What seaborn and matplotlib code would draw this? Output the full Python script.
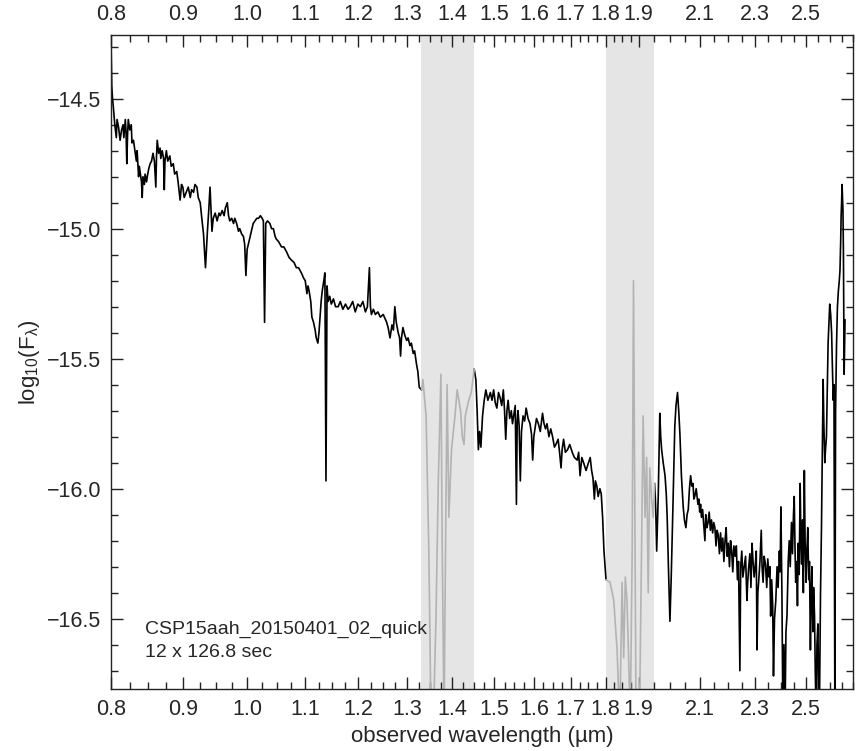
import numpy as np
import pandas as pd
import seaborn as sns
import matplotlib
matplotlib.use("Agg")
import matplotlib.pyplot as plt
from matplotlib.ticker import FixedLocator, FixedFormatter, FuncFormatter, NullFormatter


# spectrum values (wavelength in micron, log10 flux)
seg1_wl = [0.800, 0.801, 0.802, 0.803, 0.805, 0.807, 0.808, 0.810, 0.812, 0.814,
           0.816, 0.817, 0.819, 0.820, 0.821, 0.822, 0.823, 0.825, 0.827, 0.828,
           0.830, 0.832, 0.834, 0.835, 0.837, 0.838, 0.839, 0.841, 0.842, 0.843,
           0.845, 0.846, 0.848, 0.849, 0.851, 0.853, 0.855, 0.857, 0.859, 0.861,
           0.862, 0.863, 0.865, 0.867, 0.868, 0.870, 0.872, 0.873, 0.874, 0.876,
           0.878, 0.881, 0.883, 0.886, 0.888, 0.891, 0.893, 0.896, 0.898, 0.900,
           0.902, 0.905, 0.908, 0.911, 0.913, 0.916, 0.918, 0.921, 0.923, 0.926,
           0.928, 0.931, 0.934, 0.937, 0.939, 0.941, 0.943, 0.944, 0.946, 0.949,
           0.952, 0.955, 0.957, 0.960, 0.963, 0.965, 0.968, 0.970, 0.972, 0.975,
           0.978, 0.980, 0.983, 0.986, 0.988, 0.991, 0.994, 0.996, 0.998, 1.000,
           1.002, 1.005, 1.008, 1.010, 1.013, 1.016, 1.019, 1.022, 1.025, 1.027,
           1.029, 1.031, 1.034, 1.038, 1.041, 1.044, 1.047, 1.049, 1.053, 1.058,
           1.062, 1.067, 1.071, 1.075, 1.080, 1.084, 1.088, 1.093, 1.097, 1.100,
           1.103, 1.105, 1.107, 1.110, 1.112, 1.115, 1.118, 1.120, 1.123, 1.125,
           1.127, 1.129, 1.131, 1.134, 1.136, 1.138, 1.140, 1.142, 1.145, 1.148,
           1.152, 1.156, 1.161, 1.165, 1.170, 1.175, 1.180, 1.184, 1.189, 1.194,
           1.199, 1.204, 1.209, 1.214, 1.218, 1.222, 1.224, 1.226, 1.230, 1.234,
           1.239, 1.244, 1.250, 1.257, 1.260, 1.264, 1.268, 1.271, 1.274, 1.277,
           1.281, 1.284, 1.286, 1.288, 1.291, 1.295, 1.299, 1.302, 1.306, 1.309,
           1.313, 1.316, 1.320, 1.323, 1.326, 1.331]
seg1_flux = [-14.27, -14.45, -14.50, -14.53, -14.60, -14.65, -14.58, -14.61, -14.66, -14.62,
             -14.60, -14.65, -14.58, -14.63, -14.75, -14.64, -14.58, -14.62, -14.60, -14.67,
             -14.66, -14.70, -14.74, -14.70, -14.80, -14.76, -14.78, -14.82, -14.88, -14.80,
             -14.83, -14.79, -14.82, -14.80, -14.77, -14.75, -14.74, -14.71, -14.74, -14.84,
             -14.72, -14.66, -14.71, -14.69, -14.73, -14.70, -14.73, -14.85, -14.74, -14.70,
             -14.74, -14.72, -14.76, -14.75, -14.79, -14.78, -14.82, -14.89, -14.83, -14.84,
             -14.88, -14.86, -14.84, -14.88, -14.85, -14.86, -14.83, -14.84, -14.88, -14.90,
             -14.95, -15.02, -15.15, -15.01, -14.93, -14.84, -14.95, -15.01, -14.96, -14.94,
             -14.97, -14.94, -14.95, -14.93, -14.95, -14.92, -14.90, -14.95, -14.97, -14.96,
             -14.98, -14.96, -14.98, -15.01, -15.00, -15.02, -15.03, -15.06, -15.18, -15.08,
             -15.06, -15.03, -15.00, -14.98, -14.97, -14.96, -14.96, -14.95, -14.96, -14.97,
             -15.36, -14.98, -14.97, -14.98, -15.00, -15.00, -15.03, -15.04, -15.05, -15.07,
             -15.07, -15.09, -15.11, -15.12, -15.13, -15.15, -15.15, -15.17, -15.19, -15.20,
             -15.25, -15.22, -15.24, -15.28, -15.34, -15.36, -15.39, -15.42, -15.44, -15.40,
             -15.34, -15.28, -15.24, -15.20, -15.17, -15.97, -15.22, -15.28, -15.26, -15.29,
             -15.27, -15.30, -15.30, -15.28, -15.31, -15.29, -15.31, -15.30, -15.28, -15.32,
             -15.29, -15.30, -15.28, -15.32, -15.30, -15.15, -15.30, -15.33, -15.31, -15.33,
             -15.32, -15.34, -15.33, -15.36, -15.38, -15.42, -15.37, -15.39, -15.30, -15.36,
             -15.40, -15.42, -15.49, -15.42, -15.38, -15.41, -15.43, -15.42, -15.45, -15.44,
             -15.48, -15.47, -15.52, -15.55, -15.61, -15.62]

band1_wl = [1.331, 1.334, 1.341, 1.347, 1.352, 1.357, 1.363, 1.368, 1.374, 1.377,
            1.381, 1.385, 1.388, 1.392, 1.398, 1.406, 1.411, 1.419, 1.423, 1.427,
            1.430, 1.438, 1.444, 1.451]
band1_flux = [-15.62, -15.58, -15.72, -16.24, -16.90, -16.90, -16.49, -15.98, -15.56, -16.24,
              -16.90, -16.11, -15.60, -16.11, -15.85, -15.72, -15.62, -15.70, -15.80, -15.83,
              -15.72, -15.66, -15.63, -15.54]

seg2_wl = [1.451, 1.455, 1.458, 1.461, 1.464, 1.467, 1.471, 1.475, 1.479, 1.484,
           1.490, 1.494, 1.498, 1.502, 1.506, 1.510, 1.514, 1.518, 1.522, 1.525,
           1.528, 1.531, 1.534, 1.538, 1.542, 1.545, 1.548, 1.552, 1.555, 1.557,
           1.559, 1.562, 1.565, 1.568, 1.572, 1.576, 1.580, 1.585, 1.590, 1.594,
           1.597, 1.600, 1.603, 1.607, 1.612, 1.617, 1.623, 1.627, 1.631, 1.635,
           1.640, 1.645, 1.650, 1.655, 1.659, 1.665, 1.669, 1.673, 1.676, 1.680,
           1.685, 1.691, 1.697, 1.704, 1.710, 1.718, 1.722, 1.726, 1.731, 1.736,
           1.743, 1.750, 1.755, 1.759, 1.763, 1.767, 1.770, 1.774, 1.778, 1.783,
           1.787, 1.791, 1.795, 1.801]
seg2_flux = [-15.54, -15.58, -15.70, -15.85, -15.78, -15.84, -15.72, -15.66, -15.62, -15.66,
             -15.63, -15.66, -15.62, -15.67, -15.69, -15.63, -15.65, -15.68, -15.62, -15.70,
             -15.81, -15.70, -15.66, -15.73, -15.70, -15.75, -15.72, -15.68, -16.06, -15.74,
             -15.70, -15.76, -15.97, -15.78, -15.72, -15.74, -15.69, -15.73, -15.75, -15.79,
             -15.89, -15.80, -15.77, -15.73, -15.75, -15.78, -15.71, -15.75, -15.77, -15.75,
             -15.80, -15.77, -15.80, -15.84, -15.83, -15.81, -15.86, -15.92, -15.85, -15.81,
             -15.86, -15.85, -15.83, -15.86, -15.88, -15.89, -15.86, -15.95, -15.88, -15.90,
             -15.93, -15.90, -15.88, -15.93, -15.96, -16.04, -15.97, -15.99, -16.03, -16.00,
             -16.02, -16.11, -16.24, -16.35]

band2_wl = [1.801, 1.813, 1.824, 1.834, 1.842, 1.849, 1.854, 1.859, 1.864, 1.869,
            1.874, 1.880, 1.884, 1.887, 1.892, 1.904, 1.909, 1.914, 1.920, 1.925,
            1.930, 1.935, 1.941, 1.946, 1.951]
band2_flux = [-16.35, -16.36, -16.43, -16.62, -16.90, -16.36, -16.65, -16.34, -16.43, -16.65,
              -16.90, -16.24, -15.20, -15.85, -16.90, -16.75, -16.24, -15.72, -16.11, -15.88,
              -16.40, -15.92, -16.04, -16.11, -15.98]

seg3_wl = [1.951, 1.954, 1.957, 1.962, 1.967, 1.970, 1.973, 1.978, 1.984, 1.988,
           1.991, 1.995, 2.000, 2.004, 2.009, 2.013, 2.016, 2.020, 2.025, 2.029,
           2.033, 2.038, 2.044, 2.048, 2.053, 2.057, 2.061, 2.065, 2.069, 2.073,
           2.077, 2.080, 2.083, 2.088, 2.094, 2.097, 2.100, 2.103, 2.106, 2.110,
           2.114, 2.118, 2.121, 2.125, 2.129, 2.133, 2.137, 2.141, 2.145, 2.149,
           2.153, 2.157, 2.161, 2.165, 2.169, 2.173, 2.177, 2.181, 2.185, 2.189,
           2.193, 2.197, 2.201, 2.205, 2.209, 2.213, 2.217, 2.221, 2.226, 2.230,
           2.234, 2.238, 2.243, 2.246, 2.250, 2.254, 2.259, 2.264, 2.269, 2.272,
           2.275, 2.280, 2.284, 2.288, 2.292, 2.296, 2.300, 2.304, 2.307, 2.310,
           2.313, 2.318, 2.323, 2.326, 2.330, 2.334, 2.339, 2.344, 2.348, 2.353,
           2.356, 2.359, 2.363, 2.367, 2.370, 2.374, 2.379, 2.384, 2.388, 2.393,
           2.396, 2.399, 2.403, 2.407, 2.411, 2.415, 2.419, 2.423, 2.428, 2.432,
           2.436, 2.441, 2.445, 2.449, 2.452, 2.455, 2.458, 2.462, 2.465, 2.468,
           2.472, 2.476, 2.479, 2.482, 2.486, 2.489, 2.493, 2.496, 2.500, 2.503,
           2.507, 2.511, 2.514, 2.518, 2.521, 2.524, 2.528, 2.531, 2.535, 2.538,
           2.542, 2.545, 2.549, 2.552, 2.555, 2.560, 2.564, 2.567, 2.571, 2.574,
           2.578, 2.581, 2.585, 2.589, 2.592, 2.596, 2.599, 2.603, 2.607, 2.610,
           2.614, 2.617, 2.621, 2.624, 2.628, 2.632, 2.636, 2.640, 2.643, 2.646,
           2.648, 2.650, 2.652, 2.654, 2.656, 2.658, 2.661, 2.663, 2.665]
seg3_flux = [-15.98, -16.08, -16.24, -16.03, -15.71, -15.80, -15.85, -15.90, -15.95, -16.02,
             -16.11, -16.30, -16.51, -16.35, -16.11, -15.90, -15.76, -15.68, -15.63, -15.70,
             -15.79, -15.95, -16.07, -16.12, -16.15, -16.10, -16.08, -16.00, -15.95, -15.99,
             -15.98, -16.04, -16.03, -16.00, -16.06, -16.04, -16.09, -16.06, -16.11, -16.08,
             -16.14, -16.20, -16.10, -16.15, -16.13, -16.09, -16.16, -16.12, -16.17, -16.13,
             -16.15, -16.22, -16.16, -16.18, -16.25, -16.17, -16.24, -16.19, -16.28, -16.20,
             -16.15, -16.26, -16.21, -16.30, -16.20, -16.24, -16.32, -16.22, -16.26, -16.22,
             -16.35, -16.28, -16.70, -16.30, -16.24, -16.34, -16.30, -16.26, -16.43, -16.36,
             -16.31, -16.25, -16.38, -16.21, -16.28, -16.34, -16.30, -16.24, -16.62, -16.40,
             -16.36, -16.28, -16.16, -16.30, -16.36, -16.26, -16.29, -16.38, -16.27, -16.34,
             -16.30, -16.49, -16.35, -16.45, -16.72, -16.50, -16.43, -16.30, -16.38, -16.24,
             -16.32, -16.07, -16.40, -16.90, -16.60, -16.90, -16.55, -16.49, -16.28, -16.20,
             -16.30, -16.13, -16.25, -16.10, -16.03, -16.22, -16.36, -16.28, -16.45, -16.21,
             -16.33, -15.98, -16.20, -16.29, -16.12, -16.40, -15.93, -16.20, -16.36, -16.25,
             -16.15, -16.35, -16.28, -16.62, -16.40, -16.30, -16.55, -16.38, -16.49, -16.70,
             -16.90, -16.60, -16.52, -16.75, -16.90, -16.40, -16.15, -15.90, -15.58, -15.75,
             -15.90, -15.85, -15.80, -15.60, -15.44, -15.35, -15.29, -15.33, -15.40, -15.52,
             -15.66, -15.60, -16.90, -15.70, -15.45, -15.30, -15.24, -15.20, -15.16, -15.05,
             -14.95, -14.90, -14.83, -14.88, -14.93, -15.10, -15.56, -15.45, -15.35]

# telluric bands (shaded)
bands = [(1.33, 1.45), (1.80, 1.95)]

x_major = [0.8, 0.9, 1.0, 1.1, 1.2, 1.3, 1.4, 1.5, 1.6, 1.7, 1.8, 1.9, 2.1, 2.3, 2.5]
x_labels = ["0.8", "0.9", "1.0", "1.1", "1.2", "1.3", "1.4", "1.5", "1.6", "1.7",
            "1.8", "1.9", "2.1", "2.3", "2.5"]
y_major = [-16.5, -16.0, -15.5, -15.0, -14.5]

name = "CSP15aah_20150401_02_quick"
exposure = "12 x 126.8 sec"


def build_frame():
    parts = [
        (seg1_wl, seg1_flux, "spec"),
        (band1_wl, band1_flux, "telluric"),
        (seg2_wl, seg2_flux, "spec"),
        (band2_wl, band2_flux, "telluric"),
        (seg3_wl, seg3_flux, "spec"),
    ]
    frames = []
    for i, (wl, fl, kind) in enumerate(parts):
        frames.append(pd.DataFrame({"wl": wl, "flux": fl, "segment": i, "kind": kind}))
    return pd.concat(frames, ignore_index=True)


def plot(df):
    sns.set_style("ticks")
    plt.rcParams["font.family"] = ["Liberation Sans", "DejaVu Sans"]
    plt.rcParams["mathtext.fontset"] = "custom"
    plt.rcParams["mathtext.rm"] = "Liberation Sans"
    plt.rcParams["mathtext.default"] = "regular"

    W, H = 862, 751
    left, right, top, bottom = 111, 853, 35, 689.4
    fig = plt.figure(figsize=(W / 100, H / 100), dpi=100)
    ax = fig.add_axes([left / W, 1 - bottom / H, (right - left) / W, (bottom - top) / H])

    for lo, hi in bands:
        ax.axvspan(lo, hi, color="#e5e5e5", lw=0, zorder=0)

    sns.lineplot(data=df, x="wl", y="flux", hue="kind", units="segment",
                 estimator=None, sort=False, legend=False, ax=ax, lw=1.2,
                 palette={"spec": "black", "telluric": "#b3b3b3"})

    ax.set_xscale("log")
    ax.set_xlim(0.8, 2.70)
    ax.set_ylim(-16.772, -14.255)

    # x ticks
    ax.xaxis.set_major_locator(FixedLocator(x_major))
    ax.xaxis.set_major_formatter(FixedFormatter(x_labels))
    minor = [round(v, 3) for v in np.arange(0.825, 1.9, 0.025)]
    minor += [round(v, 3) for v in np.arange(1.95, 2.70, 0.05)]
    minor = [v for v in minor if all(abs(v - m) > 1e-6 for m in x_major)]
    ax.xaxis.set_minor_locator(FixedLocator(minor))
    ax.xaxis.set_minor_formatter(NullFormatter())

    # y ticks
    ax.yaxis.set_major_locator(FixedLocator(y_major))
    ax.yaxis.set_major_formatter(FuncFormatter(lambda v, p: f"{v:.1f}".replace("-", "\u2212")))
    ax.yaxis.set_minor_locator(FixedLocator([round(v, 2) for v in np.arange(-16.7, -14.25, 0.1)]))

    ax.tick_params(which="both", direction="in", top=True, right=True,
                   labeltop=True, labelsize=15.5, width=1.0, color="#222222")
    ax.tick_params(which="major", length=8.6, pad=7)
    ax.tick_params(which="minor", length=5)
    for sp in ax.spines.values():
        sp.set_linewidth(1.0)
        sp.set_color("#222222")

    ax.set_xlabel("observed wavelength (\u00b5m)", fontsize=16)
    ax.set_ylabel("log$_{10}$(F$_{\\lambda}$)", fontsize=16)
    ax.xaxis.set_label_coords(0.5, -0.056)
    ax.yaxis.set_label_coords(-0.093, 0.5)

    ax.text(0.046, 0.091, name, transform=ax.transAxes, fontsize=14, va="center")
    ax.text(0.046, 0.057, exposure, transform=ax.transAxes, fontsize=14, va="center")

    fig.savefig("out.png", dpi=100)


if __name__ == "__main__":
    data = build_frame()
    plot(data)
